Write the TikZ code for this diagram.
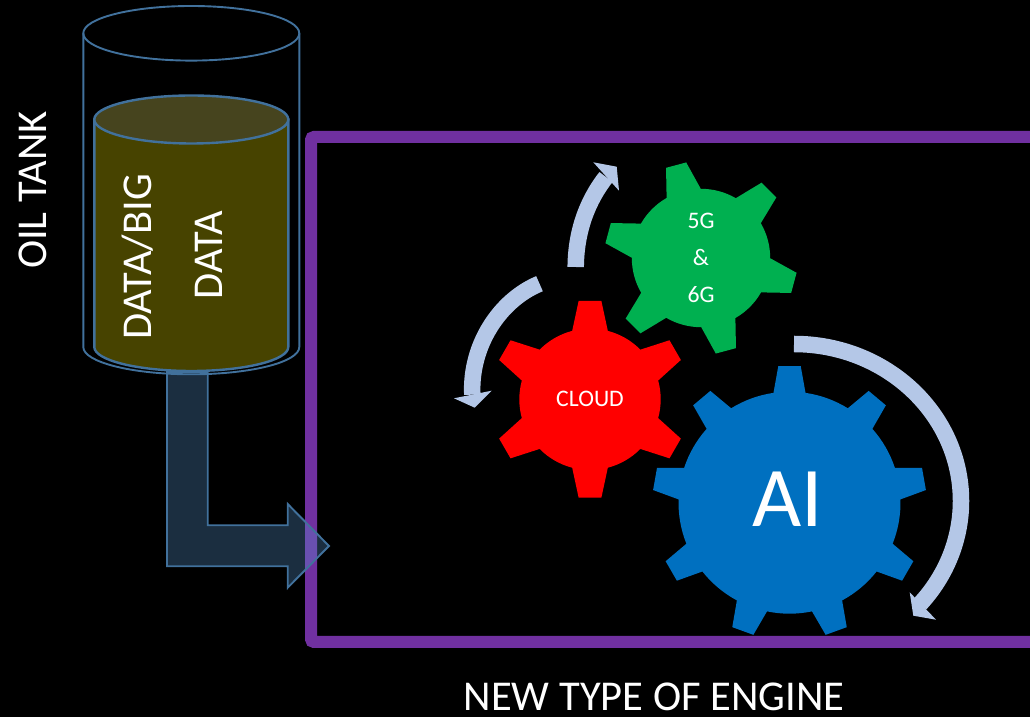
\documentclass[tikz,border=0pt]{standalone}
\usepackage{fontspec}
\setmainfont{Carlito}
\usetikzlibrary{positioning}
\definecolor{tankBlue}{RGB}{65, 113, 156}
\definecolor{oilBody}{RGB}{71, 67, 0}
\definecolor{oilTop}{RGB}{70, 68, 30}
\definecolor{pipeBlue}{RGB}{91, 155, 213}
\definecolor{enginePurple}{RGB}{112, 48, 160}
\definecolor{gearRed}{RGB}{255, 0, 0}
\definecolor{gearGreen}{RGB}{0, 176, 80}
\definecolor{gearBlue}{RGB}{0, 112, 192}
\definecolor{turnBlue}{RGB}{180, 199, 231}
\tikzset{
  tankline/.style={draw=tankBlue, line width=1.9pt},
  turnarrow/.style={draw=turnBlue, line width=16.5pt},
  turnhead/.style={fill=turnBlue},
  bigtext/.style={text=white, font=\fontsize{42.5}{48}\selectfont, inner sep=0pt},
  geartext/.style={text=white, font=\fontsize{23.7}{37}\selectfont, inner sep=0pt, align=center}
}
% colour, centre, body radius, tip radius, base half angle, tip half angle, first angle, teeth
\newcommand{\gearshape}[8]{
  \begin{scope}[shift={#2}]
    \fill[#1] ({#7-#5}:#3)
      \foreach \t [evaluate=\t as \a using #7+\t*360/#8] in {0,...,\numexpr#8-1\relax} {
        -- ({\a-#5}:#3) -- ({\a-#6}:#4) -- ({\a+#6}:#4) -- ({\a+#5}:#3)
        arc[start angle=\a+#5, end angle=\a+360/#8-#5, radius=#3]
      } -- cycle;
  \end{scope}
}
\begin{document}
\begin{tikzpicture}[x=1pt, y=1pt]
  \fill[black] (0,0) rectangle (1030,717);
  \useasboundingbox (0,0) rectangle (1030,717);

  % Engine frame
  \draw[enginePurple, line width=12pt, rounded corners=3pt] (1030,75) -- (311,75) -- (311,580) -- (1030,580);

  % Pipe
  \draw[tankline, fill=pipeBlue, fill opacity=0.3]
    (167,345) -- (167,150.7) -- (287.7,150.7) -- (287.7,129.3) -- (329,171) -- (287.7,213) -- (287.7,191.7) -- (207.7,191.7) -- (207.7,345) -- cycle;

  % Oil
  \draw[tankline, line width=2.4pt, fill=oilBody] (94.3,597.5) -- (94.3,370) arc[start angle=180, end angle=360, x radius=97, y radius=24] -- (288.3,597.5) -- cycle;
  \draw[tankline, line width=2.4pt, fill=oilTop] (191.3,597.5) ellipse[x radius=97, y radius=24];

  % Tank
  \draw[tankline] (83.3,683.7) -- (83.3,370) arc[start angle=180, end angle=360, x radius=108, y radius=27.3] -- (299.3,683.7);
  \draw[tankline] (191.3,683.7) ellipse[x radius=108, y radius=27.3];

  % Gears
  \gearshape{gearBlue}{(789.5,214.3)}{111}{137}{8.3}{4.7}{90}{9}
  \gearshape{gearRed}{(590,317.7)}{70.7}{99}{14.6}{6.6}{90}{6}
  \gearshape{gearGreen}{(701,459)}{69.2}{96.7}{14.8}{6.2}{105}{6}

  % Turning arrows
  \draw[turnarrow] (794,373) arc[start angle=90, end angle=-41, x radius=167, y radius=157];
  \fill[turnhead] (909.7,124.7) -- (913.3,101.3) -- (936,97.3) -- cycle;
  \draw[turnarrow] (575.7,450) .. controls (576,487) and (588,517) .. (606,540);
  \fill[turnhead] (593.3,554.7) -- (616.7,550.3) -- (619,526.3) -- cycle;
  \draw[turnarrow] (539.5,433.3) .. controls (500,417) and (470,372) .. (472.3,322.3);
  \fill[turnhead] (454,318.7) -- (474.7,309.3) -- (491.7,326.3) -- cycle;

  % Labels
  \node[bigtext, rotate=90] (oiltank) at (33,527) {OIL TANK};
  \node[bigtext, rotate=90] (databig) at (138,460) {DATA/BIG};
  \node[bigtext, rotate=90] (data) at (209,462) {DATA};
  \node[bigtext] (engine) at (654,20) {NEW TYPE OF ENGINE};
  \node[geartext] (cloud) at (590,318) {CLOUD};
  \node[geartext] (fiveg) at (701,459) {5G\\\&\\6G};
  \node[text=white, font=\fontsize{85}{92}\selectfont, inner sep=0pt] (ai) at (788,218) {AI};
\end{tikzpicture}
\end{document}
